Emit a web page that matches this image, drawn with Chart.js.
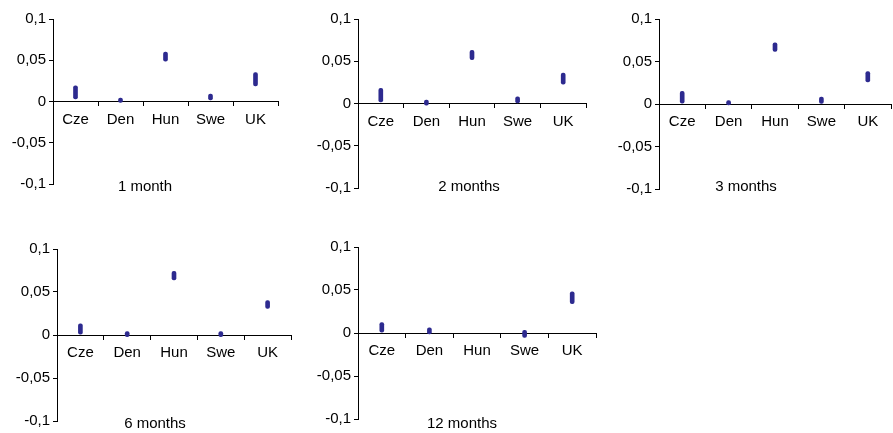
<!DOCTYPE html>
<html>
<head>
<meta charset="utf-8">
<script src="https://cdn.jsdelivr.net/npm/chart.js@4"></script>
<style>
  html, body { margin: 0; padding: 0; background: #fff; overflow: hidden; }
  #wrap { position: relative; width: 893px; height: 433px; }
  #wrap canvas { position: absolute; }
</style>
</head>
<body>
<div id="wrap"></div>
<script>
const countries = ['Cze', 'Den', 'Hun', 'Swe', 'UK'];
const horizons = ['1 month', '2 months', '3 months', '6 months', '12 months'];
const yTickLabels = ['-0,1', '-0,05', '0', '0,05', '0,1'];

// rango [min, max] por pa√≠s y horizonte
const range1m = [[0.003, 0.019], [-0.001, 0.004], [0.049, 0.060], [0.002, 0.009], [0.019, 0.035]];
const range2m = [[0.002, 0.018], [-0.002, 0.004], [0.052, 0.063], [0.000, 0.008], [0.023, 0.036]];
const range3m = [[0.001, 0.015], [-0.001, 0.004], [0.062, 0.072], [0.000, 0.008], [0.026, 0.038]];
const range6m = [[0.001, 0.013], [-0.002, 0.004], [0.064, 0.074], [-0.002, 0.004], [0.031, 0.040]];
const range12m = [[0.001, 0.012], [-0.001, 0.006], null, [-0.005, 0.003], [0.034, 0.048]];

// posici√≥n de cada panel en la p√°gina
const panels = [
  { data: range1m,  caption: horizons[0], left: 53,  right: 278, top: 19,  bottom: 184, capX: 145, capY: 187 },
  { data: range2m,  caption: horizons[1], left: 358, right: 586, top: 19,  bottom: 188, capX: 469, capY: 187 },
  { data: range3m,  caption: horizons[2], left: 659, right: 891, top: 19,  bottom: 189, capX: 746, capY: 187 },
  { data: range6m,  caption: horizons[3], left: 57,  right: 291, top: 249, bottom: 421, capX: 155, capY: 424 },
  { data: range12m, caption: horizons[4], left: 358, right: 596, top: 247, bottom: 419, capX: 462, capY: 424 }
];

const Y_W = 53, PAD_T = 12, PAD_B = 12, PAD_R = 2;
const fuente = { family: "'Liberation Sans', Arial, sans-serif", size: 15 };
const colorBarra = '#2d2a8f';

const captionPlugin = {
  id: 'caption',
  afterDraw(chart, args, opts) {
    const ctx = chart.ctx;
    ctx.save();
    ctx.font = '15px ' + fuente.family;
    ctx.fillStyle = '#000';
    ctx.textAlign = 'center';
    ctx.textBaseline = 'middle';
    ctx.fillText(opts.text, opts.x, opts.y);
    ctx.restore();
  }
};

const wrap = document.getElementById('wrap');
panels.forEach(p => {
  const cLeft = p.left - Y_W;
  const cTop = p.top - PAD_T;
  const w = p.right - p.left + Y_W + PAD_R;
  const h = p.bottom - p.top + PAD_T + PAD_B;
  const canvas = document.createElement('canvas');
  canvas.width = w;
  canvas.height = h;
  canvas.style.left = cLeft + 'px';
  canvas.style.top = cTop + 'px';
  canvas.style.width = w + 'px';
  canvas.style.height = h + 'px';
  wrap.appendChild(canvas);

  new Chart(canvas.getContext('2d'), {
    type: 'bar',
    data: {
      labels: countries,
      datasets: [{
        data: p.data,
        backgroundColor: colorBarra,
        barThickness: 4,
        borderRadius: 2,
        borderSkipped: false
      }]
    },
    plugins: [captionPlugin],
    options: {
      responsive: false,
      animation: false,
      layout: { padding: { left: 0, right: PAD_R, top: PAD_T, bottom: PAD_B } },
      plugins: {
        legend: { display: false },
        tooltip: { enabled: false },
        caption: { text: p.caption, x: p.capX - cLeft, y: p.capY - cTop }
      },
      scales: {
        x: {
          position: { y: 0 },
          offset: true,
          grid: { offset: true, drawOnChartArea: false, drawTicks: true, tickLength: 4, color: '#000' },
          border: { color: '#000' },
          ticks: { color: '#000', font: fuente, padding: 5, maxRotation: 0, autoSkip: false }
        },
        y: {
          min: -0.1,
          max: 0.1,
          afterFit(scale) { scale.width = Y_W; },
          grid: { drawOnChartArea: false, drawTicks: true, tickLength: 4, color: '#000' },
          border: { color: '#000' },
          ticks: {
            stepSize: 0.05,
            color: '#000',
            font: fuente,
            padding: 3,
            callback: (v, i) => yTickLabels[i]
          }
        }
      }
    }
  });
});
</script>
</body>
</html>
